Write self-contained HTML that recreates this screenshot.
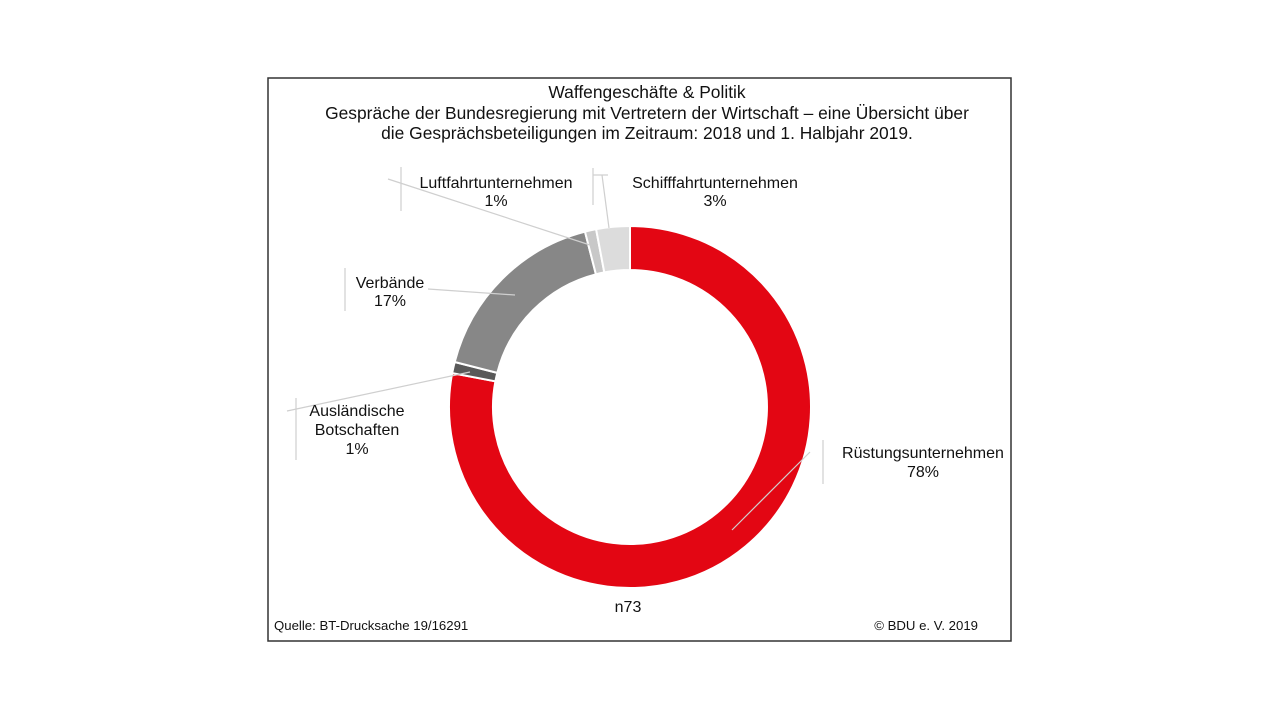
<!DOCTYPE html>
<html><head><meta charset="utf-8"><style>
body{margin:0;background:#fff;width:1280px;height:720px;overflow:hidden}
svg{position:absolute;left:0;top:0}
text{font-family:"Liberation Sans",Arial,sans-serif;font-size:16px;fill:#111}
.t{font-size:17.4px}
</style></head><body>
<svg width="1280" height="720" viewBox="0 0 1280 720">
<rect x="268" y="78" width="743" height="563" fill="#fff" stroke="#333" stroke-width="1.5"/>
<text class="t" x="647" y="98" text-anchor="middle">Waffengeschäfte &amp; Politik</text>
<text class="t" x="647" y="119" text-anchor="middle">Gespräche der Bundesregierung mit Vertretern der Wirtschaft – eine Übersicht über</text>
<text class="t" x="647" y="139" text-anchor="middle">die Gesprächsbeteiligungen im Zeitraum: 2018 und 1. Halbjahr 2019.</text>
<g stroke="#fff" stroke-width="2">
<path d="M630,226 A181 181 0 1 1 452.2,373.1 L495.4,381.3 A137 137 0 1 0 630,270 Z" fill="#e30613"/>
<path d="M452.2,373.1 A181 181 0 0 1 454.7,362 L497.3,372.9 A137 137 0 0 0 495.4,381.3 Z" fill="#595959"/>
<path d="M454.7,362 A181 181 0 0 1 585,231.7 L595.9,274.3 A137 137 0 0 0 497.3,372.9 Z" fill="#878787"/>
<path d="M585,231.7 A181 181 0 0 1 596.1,229.2 L604.3,272.4 A137 137 0 0 0 595.9,274.3 Z" fill="#c8c8c8"/>
<path d="M596.1,229.2 A181 181 0 0 1 630,226 L630,270 A137 137 0 0 0 604.3,272.4 Z" fill="#dcdcdc"/>
</g>
<g stroke="#cfcfcf" stroke-width="1.2" fill="none">
<line x1="401" y1="167" x2="401" y2="211"/><line x1="388" y1="179" x2="590" y2="245"/>
<line x1="593" y1="168" x2="593" y2="205"/><line x1="593" y1="175" x2="608" y2="175"/><line x1="602" y1="175" x2="609" y2="228"/>
<line x1="345" y1="268" x2="345" y2="311"/><line x1="428" y1="289" x2="515" y2="295"/>
<line x1="296" y1="398" x2="296" y2="460"/><line x1="287" y1="411" x2="470" y2="372"/>
<line x1="823" y1="440" x2="823" y2="484"/><line x1="810" y1="452" x2="732" y2="530"/>
</g>
<text x="496" y="188" text-anchor="middle">Luftfahrtunternehmen</text>
<text x="496" y="206" text-anchor="middle">1%</text>
<text x="715" y="188" text-anchor="middle">Schifffahrtunternehmen</text>
<text x="715" y="206" text-anchor="middle">3%</text>
<text x="390" y="288" text-anchor="middle">Verbände</text>
<text x="390" y="306" text-anchor="middle">17%</text>
<text x="357" y="416" text-anchor="middle">Ausländische</text>
<text x="357" y="435" text-anchor="middle">Botschaften</text>
<text x="357" y="454" text-anchor="middle">1%</text>
<text x="923" y="458" text-anchor="middle">Rüstungsunternehmen</text>
<text x="923" y="477" text-anchor="middle">78%</text>
<text x="628" y="612" text-anchor="middle">n73</text>
<text x="274" y="630" style="font-size:13.2px">Quelle: BT-Drucksache 19/16291</text>
<text x="978" y="630" text-anchor="end" style="font-size:13.2px">© BDU e. V. 2019</text>
</svg>
</body></html>
